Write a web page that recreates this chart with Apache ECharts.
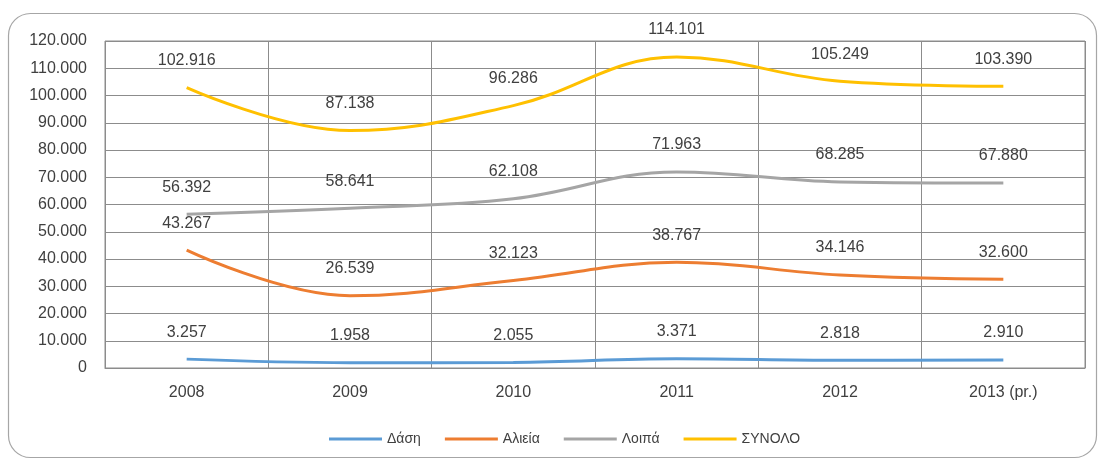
<!DOCTYPE html>
<html>
<head>
<meta charset="utf-8">
<script src="https://cdn.jsdelivr.net/npm/echarts@6/dist/echarts.min.js"></script>
<style>
  html, body { margin: 0; padding: 0; background: #fff; }
  #myChart { width: 1102px; height: 462px; }
</style>
</head>
<body>
<div id="myChart"></div>
<script>
var years = ['2008', '2009', '2010', '2011', '2012', '2013 (pr.)'];
var seriesNames = ['Δάση', 'Αλιεία', 'Λοιπά', 'ΣΥΝΟΛΟ'];
var dasi = [3257, 1958, 2055, 3371, 2818, 2910];
var alieia = [43267, 26539, 32123, 38767, 34146, 32600];
var loipa = [56392, 58641, 62108, 71963, 68285, 67880];
var synolo = [102916, 87138, 96286, 114101, 105249, 103390];
var colors = ['#5b9bd5', '#ed7d31', '#a5a5a5', '#ffc000'];

// 102916 -> "102.916"
function fmt(v) {
  if (v === 0) return '0';
  var th = Math.floor(v / 1000), r = String(v % 1000);
  while (r.length < 3) r = '0' + r;
  return th + '.' + r;
}

var font = 'Liberation Sans';
var allData = [dasi, alieia, loipa, synolo];

var series = [];
for (var i = 0; i < seriesNames.length; i++) {
  series.push({
    name: seriesNames[i],
    type: 'line',
    smooth: 0.4,
    symbol: 'circle',
    symbolSize: 0,
    showSymbol: true,
    data: allData[i],
    lineStyle: { width: 3, color: colors[i] },
    itemStyle: { color: colors[i] },
    label: {
      show: true,
      position: 'top',
      distance: 19,
      color: '#404040',
      fontFamily: font,
      fontSize: 16,
      formatter: function (p) { return fmt(p.value); }
    }
  });
}

var myChart = echarts.init(document.getElementById('myChart'));
var option = {
  animation: false,
  color: colors,
  graphic: [{
    type: 'rect',
    shape: { x: 8.5, y: 13.5, width: 1088, height: 444, r: 22 },
    style: { fill: 'none', stroke: '#a6a6a6', lineWidth: 1.2 },
    silent: true
  }],
  grid: {
    left: 105, right: 17, top: 41, bottom: 94,
    show: true, borderColor: '#8c8c8c', borderWidth: 1
  },
  legend: {
    bottom: 11,
    left: 324,
    icon: 'rect',
    itemWidth: 53,
    itemHeight: 3,
    itemGap: 24,
    textStyle: { color: '#404040', fontFamily: font, fontSize: 14 },
    data: seriesNames
  },
  xAxis: {
    type: 'category',
    data: years,
    boundaryGap: true,
    axisLine: { show: true, lineStyle: { color: '#8c8c8c', width: 1 } },
    axisTick: { show: false },
    splitLine: { show: true, lineStyle: { color: '#8c8c8c', width: 1 } },
    axisLabel: { color: '#404040', fontFamily: font, fontSize: 16, margin: 17 }
  },
  yAxis: {
    type: 'value',
    min: 0,
    max: 120000,
    interval: 10000,
    axisLine: { show: false },
    axisTick: { show: false },
    splitLine: { show: true, lineStyle: { color: '#8c8c8c', width: 1 } },
    axisLabel: {
      color: '#404040', fontFamily: font, fontSize: 16, margin: 18,
      formatter: fmt
    }
  },
  series: series
};
myChart.setOption(option);
</script>
</body>
</html>
